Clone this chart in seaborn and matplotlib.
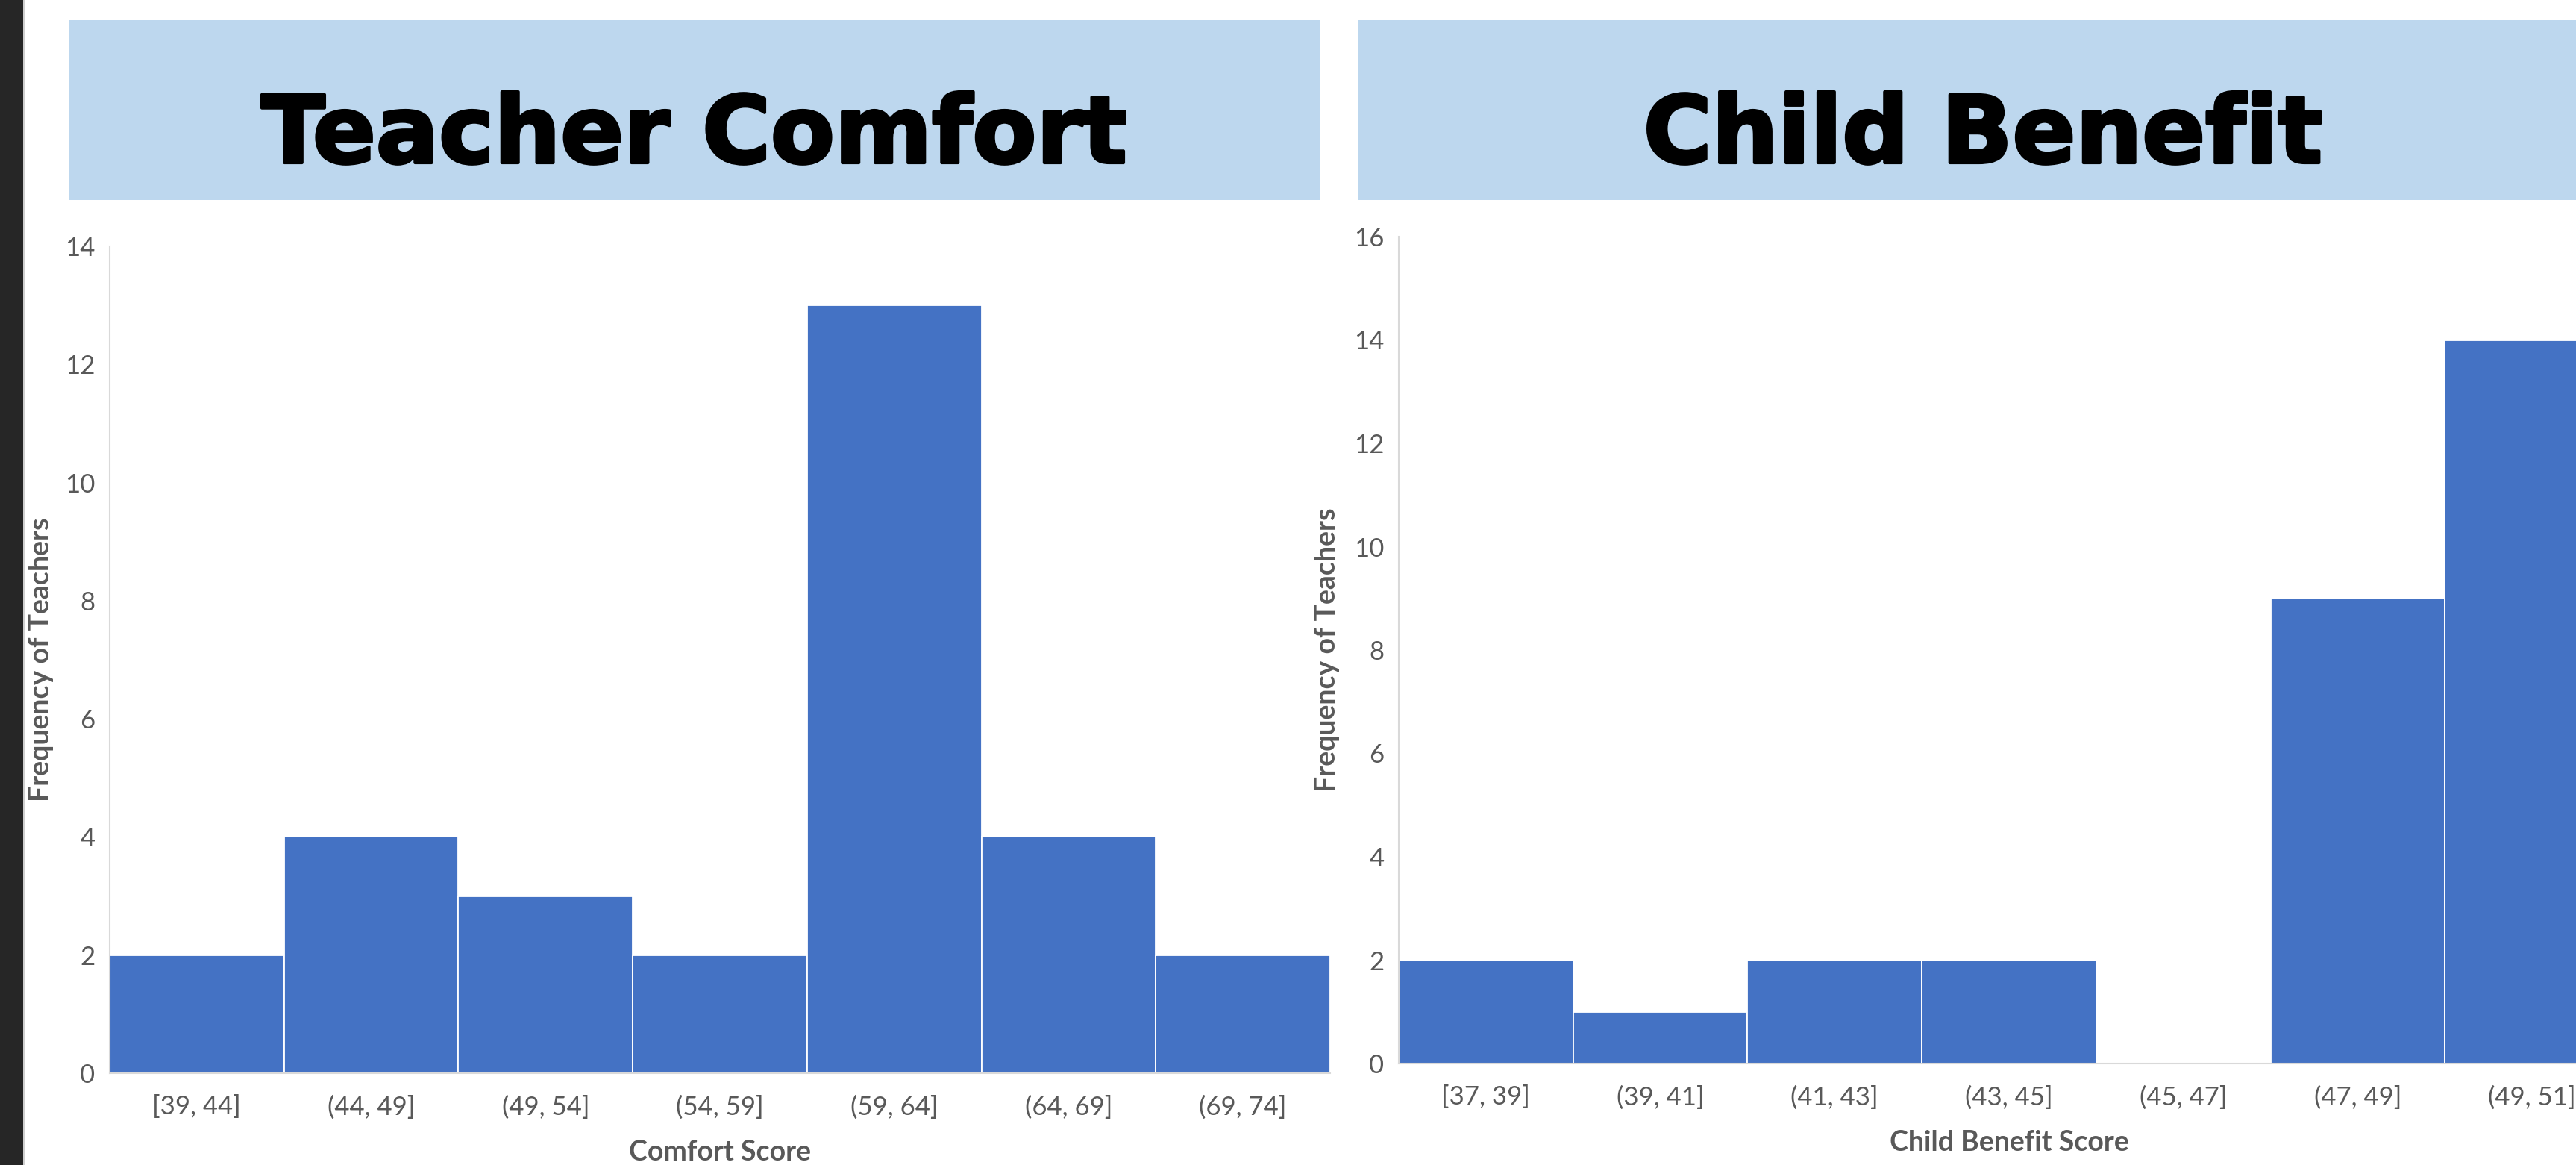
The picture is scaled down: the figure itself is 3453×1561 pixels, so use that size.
import matplotlib
matplotlib.use("Agg")
import matplotlib.pyplot as plt
import matplotlib.patheffects as pe
from matplotlib.patches import Rectangle
import seaborn as sns
import pandas as pd

# ---- data ----
comfort_bins = ["[39, 44]", "(44, 49]", "(49, 54]", "(54, 59]", "(59, 64]", "(64, 69]", "(69, 74]"]
comfort_counts = [2, 4, 3, 2, 13, 4, 2]
benefit_bins = ["[37, 39]", "(39, 41]", "(41, 43]", "(43, 45]", "(45, 47]", "(47, 49]", "(49, 51]"]
benefit_counts = [2, 1, 2, 2, 0, 9, 14]
titles = ["Teacher Comfort", "Child Benefit"]
xlabels = ["Comfort Score", "Child Benefit Score"]
ylabel = "Frequency of Teachers"
yticks_left = [0, 2, 4, 6, 8, 10, 12, 14]
yticks_right = [0, 2, 4, 6, 8, 10, 12, 14, 16]

W, H = 3453, 1561
DPI = 100
BAR = "#4472C4"
GREY = "#595959"
BOX = "#BDD7EE"

sns.set_theme(style="white")
plt.rcParams["font.family"] = ["Lato", "DejaVu Sans"]

fig = plt.figure(figsize=(W / DPI, H / DPI), dpi=DPI)
fig.patch.set_facecolor("white")


def fx(x):
    return x / W


def fy(y):
    return 1 - y / H


# dark strip at left edge
fig.patches.append(Rectangle((0, 0), fx(31), 1, transform=fig.transFigure,
                             facecolor="#262626", edgecolor="none", zorder=0))
fig.patches.append(Rectangle((fx(31), 0), fx(2), 1, transform=fig.transFigure,
                             facecolor="#CFCFCF", edgecolor="none", zorder=0))

# title boxes
boxes = [(92, 1769), (1820, 3496)]
for (x0, x1), t in zip(boxes, titles):
    fig.patches.append(Rectangle((fx(x0), fy(268)), fx(x1 - x0), (268 - 27) / H,
                                 transform=fig.transFigure, facecolor=BOX,
                                 edgecolor="none", zorder=1))
    fig.text(fx((x0 + x1) / 2), fy(218), t, ha="center", va="baseline",
             fontsize=90, fontweight="bold", color="black",
             family=["DejaVu Sans"], zorder=2,
             path_effects=[pe.withStroke(linewidth=3, foreground="black")])

panels = [
    (147, 330, 1438, comfort_bins, comfort_counts, yticks_left, 14, xlabels[0], 55),
    (1875, 317, 1425, benefit_bins, benefit_counts, yticks_right, 16, xlabels[1], 1779),
]

for left, top, bottom, bins, counts, yt, ymax, xl, ylx in panels:
    width = 1636
    ax = fig.add_axes([fx(left), fy(bottom), width / W, (bottom - top) / H])
    df = pd.DataFrame({"bin": bins, "count": counts})
    sns.barplot(data=df, x="bin", y="count", color=BAR, saturation=1,
                width=1.0, edgecolor="white", linewidth=1.3, ax=ax)
    ax.set_xlim(-0.5, len(bins) - 0.5)
    ax.set_ylim(0, ymax)
    ax.set_yticks(yt)
    ax.set_facecolor("white")
    for s in ["top", "right"]:
        ax.spines[s].set_visible(False)
    for s in ["left", "bottom"]:
        ax.spines[s].set_color("#D9D9D9")
        ax.spines[s].set_linewidth(1.5)
    ax.tick_params(axis="both", length=0, labelsize=25, labelcolor=GREY)
    ax.tick_params(axis="x", pad=21)
    ax.tick_params(axis="y", pad=14)
    ax.set_xlabel(xl, fontsize=27, fontweight="bold", color=GREY)
    ax.set_ylabel(ylabel, fontsize=27, fontweight="bold", color=GREY)
    ax.xaxis.label.set_va("center")
    ax.yaxis.label.set_va("center")
    ax.xaxis.set_label_coords(0.5, -106 / (bottom - top))
    ax.yaxis.set_label_coords((ylx - left) / width, 0.5)
    ax.grid(False)

fig.savefig("out.png", dpi=DPI, facecolor="white")
